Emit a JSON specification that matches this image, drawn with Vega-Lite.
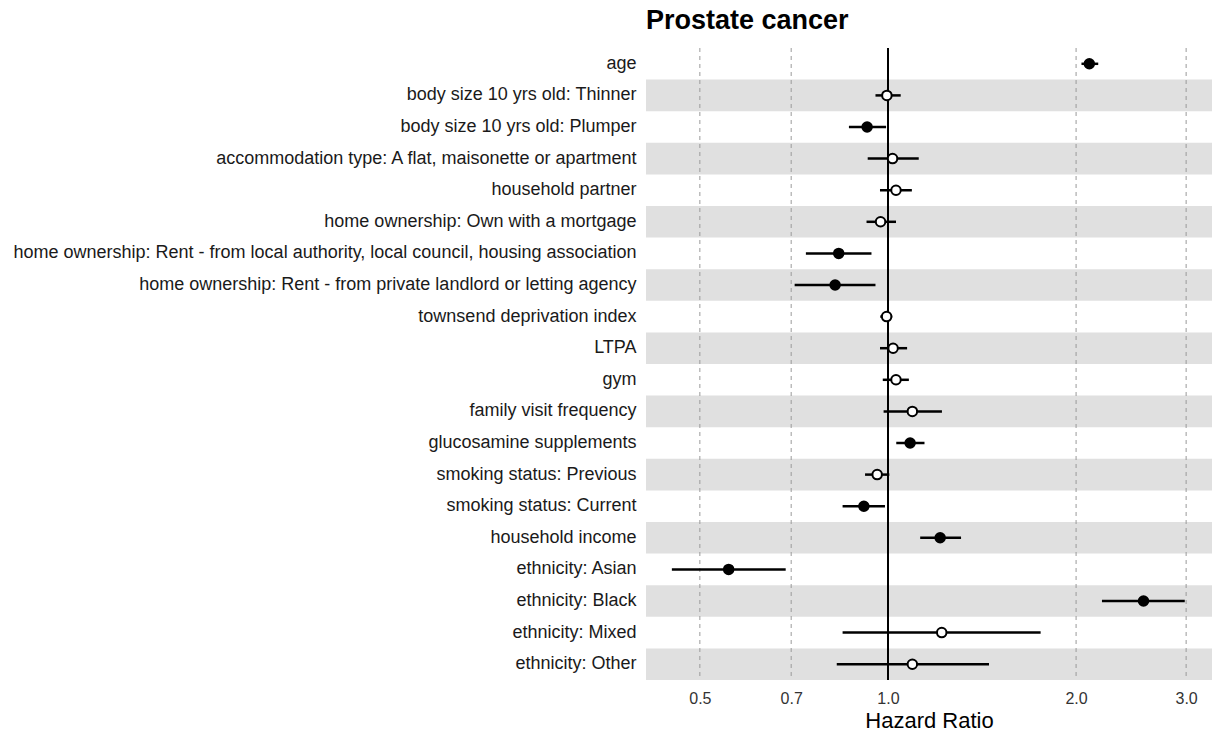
{
  "$schema": "https://vega.github.io/schema/vega-lite/v6.json",
  "width": 566,
  "height": 632,
  "autosize": {"type": "none"},
  "padding": {"left": 646, "top": 48, "right": 2, "bottom": 58},
  "background": "white",
  "config": {"view": {"stroke": null}, "font": "Liberation Sans"},
  "title": {"text": "Prostate cancer", "anchor": "start", "frame": "group", "fontSize": 27, "fontWeight": "bold", "color": "#000000", "offset": 12, "font": "Liberation Sans"},
  "datasets": {
    "rows": [
      {"term": "age", "hr": 2.10, "lo": 2.04, "hi": 2.17, "sig": "yes", "stripe": 0},
      {"term": "body size 10 yrs old: Thinner", "hr": 0.996, "lo": 0.955, "hi": 1.048, "sig": "no", "stripe": 1},
      {"term": "body size 10 yrs old: Plumper", "hr": 0.926, "lo": 0.866, "hi": 0.993, "sig": "yes", "stripe": 0},
      {"term": "accommodation type: A flat, maisonette or apartment", "hr": 1.017, "lo": 0.928, "hi": 1.12, "sig": "no", "stripe": 1},
      {"term": "household partner", "hr": 1.03, "lo": 0.971, "hi": 1.092, "sig": "no", "stripe": 0},
      {"term": "home ownership: Own with a mortgage", "hr": 0.973, "lo": 0.924, "hi": 1.03, "sig": "no", "stripe": 1},
      {"term": "home ownership: Rent - from local authority, local council, housing association", "hr": 0.834, "lo": 0.739, "hi": 0.941, "sig": "yes", "stripe": 0},
      {"term": "home ownership: Rent - from private landlord or letting agency", "hr": 0.823, "lo": 0.709, "hi": 0.955, "sig": "yes", "stripe": 1},
      {"term": "townsend deprivation index", "hr": 0.995, "lo": 0.972, "hi": 1.016, "sig": "no", "stripe": 0},
      {"term": "LTPA", "hr": 1.019, "lo": 0.971, "hi": 1.073, "sig": "no", "stripe": 1},
      {"term": "gym", "hr": 1.03, "lo": 0.981, "hi": 1.08, "sig": "no", "stripe": 0},
      {"term": "family visit frequency", "hr": 1.094, "lo": 0.984, "hi": 1.22, "sig": "no", "stripe": 1},
      {"term": "glucosamine supplements", "hr": 1.085, "lo": 1.031, "hi": 1.144, "sig": "yes", "stripe": 0},
      {"term": "smoking status: Previous", "hr": 0.961, "lo": 0.919, "hi": 1.005, "sig": "no", "stripe": 1},
      {"term": "smoking status: Current", "hr": 0.915, "lo": 0.846, "hi": 0.989, "sig": "yes", "stripe": 0},
      {"term": "household income", "hr": 1.212, "lo": 1.126, "hi": 1.309, "sig": "yes", "stripe": 1},
      {"term": "ethnicity: Asian", "hr": 0.556, "lo": 0.451, "hi": 0.686, "sig": "yes", "stripe": 0},
      {"term": "ethnicity: Black", "hr": 2.564, "lo": 2.2, "hi": 2.985, "sig": "yes", "stripe": 1},
      {"term": "ethnicity: Mixed", "hr": 1.219, "lo": 0.846, "hi": 1.755, "sig": "no", "stripe": 0},
      {"term": "ethnicity: Other", "hr": 1.094, "lo": 0.828, "hi": 1.451, "sig": "no", "stripe": 1}
    ],
    "ticks": [{"t": 0.5}, {"t": 0.7}, {"t": 2}, {"t": 3}]
  },
  "data": {"name": "rows"},
  "encoding": {
    "y": {
      "field": "term", "type": "nominal",
      "sort": ["age", "body size 10 yrs old: Thinner", "body size 10 yrs old: Plumper", "accommodation type: A flat, maisonette or apartment", "household partner", "home ownership: Own with a mortgage", "home ownership: Rent - from local authority, local council, housing association", "home ownership: Rent - from private landlord or letting agency", "townsend deprivation index", "LTPA", "gym", "family visit frequency", "glucosamine supplements", "smoking status: Previous", "smoking status: Current", "household income", "ethnicity: Asian", "ethnicity: Black", "ethnicity: Mixed", "ethnicity: Other"],
      "scale": {"paddingInner": 0, "paddingOuter": 0},
      "axis": {"title": null, "domain": false, "ticks": false, "labelFontSize": 18, "labelColor": "#1a1a1a", "labelPadding": 10, "labelLimit": 700, "labelFont": "Liberation Sans"}
    }
  },
  "layer": [
    {
      "transform": [{"filter": "datum.stripe == 1"}],
      "mark": {"type": "rect", "color": "#e0e0e0"}
    },
    {
      "data": {"name": "ticks"},
      "mark": {"type": "rule", "color": "#9a9a9a", "strokeDash": [4, 4], "strokeWidth": 1},
      "encoding": {"x": {"field": "t", "type": "quantitative"}, "y": null}
    },
    {
      "mark": {"type": "rule", "color": "#000000", "strokeWidth": 1.5},
      "encoding": {"x": {"datum": 1, "type": "quantitative"}, "y": null}
    },
    {
      "mark": {"type": "rule", "color": "#000000", "strokeWidth": 2.5},
      "encoding": {
        "x": {"field": "lo", "type": "quantitative"},
        "x2": {"field": "hi"}
      }
    },
    {
      "mark": {"type": "point", "filled": true, "stroke": "#000000", "strokeWidth": 2, "size": 90, "opacity": 1},
      "encoding": {
        "x": {
          "field": "hr", "type": "quantitative",
          "scale": {"type": "log", "domain": [0.41, 3.3], "nice": false, "zero": false},
          "axis": {"values": [0.5, 0.7, 1, 2, 3], "format": ".1f", "title": "Hazard Ratio", "titleFontSize": 22, "titleFontWeight": "normal", "titleColor": "#000000", "titleFont": "Liberation Sans", "titlePadding": 4, "labelFontSize": 16, "labelColor": "#333333", "labelFont": "Liberation Sans", "labelPadding": 10, "domain": false, "ticks": false, "grid": false}
        },
        "fill": {"field": "sig", "type": "nominal", "scale": {"domain": ["yes", "no"], "range": ["#000000", "#ffffff"]}, "legend": null}
      }
    }
  ],
  "resolve": {"scale": {"x": "shared"}}
}
